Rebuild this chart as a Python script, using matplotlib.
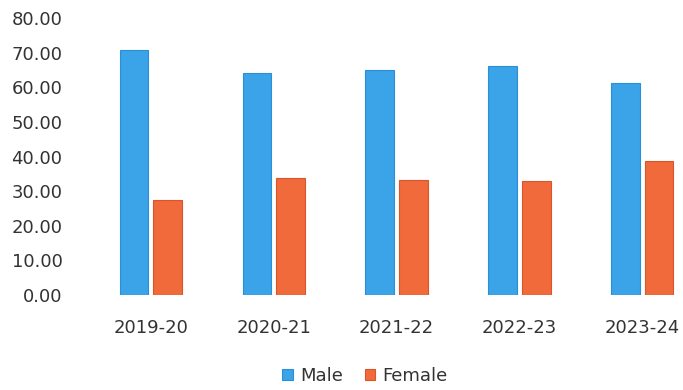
import numpy as np
import matplotlib
matplotlib.use("Agg")
import matplotlib.pyplot as plt
from matplotlib.ticker import FormatStrFormatter

# data
years = ["2019-20", "2020-21", "2021-22", "2022-23", "2023-24"]
male = [70.8, 64.2, 65.0, 66.0, 61.2]
female = [27.5, 33.8, 33.2, 32.8, 38.6]

blue = "#3ba3e8"
orange = "#f06a3b"
text_col = "#333333"

fig = plt.figure(figsize=(6.83, 3.9), dpi=100)
ax = fig.add_axes([75 / 683, 95 / 390, 608 / 683, 277 / 390])

x = np.arange(len(years))
w = 0.235
off = 0.135
ax.bar(x - off, male, w, color=blue, edgecolor="#2a8fd6", linewidth=0.8, label="Male")
ax.bar(x + off, female, w, color=orange, edgecolor="#d9552a", linewidth=0.8, label="Female")

ax.set_ylim(0, 80)
ax.set_xlim(-0.615, 4.33)
ax.set_yticks(np.arange(0, 81, 10))
ax.yaxis.set_major_formatter(FormatStrFormatter("%.2f"))
ax.set_xticks(x)
ax.set_xticklabels(years)

for s in ax.spines.values():
    s.set_visible(False)
ax.tick_params(axis="both", length=0, labelsize=13, colors=text_col)
ax.tick_params(axis="y", pad=9)
ax.tick_params(axis="x", pad=17)

leg = fig.legend(loc="center", bbox_to_anchor=(365 / 683, 14 / 390), ncol=2,
                 frameon=False, fontsize=13, handlelength=0.6, handleheight=0.6,
                 handletextpad=0.4, columnspacing=1.2)
for t in leg.get_texts():
    t.set_color(text_col)

fig.savefig("out.png", dpi=100)
